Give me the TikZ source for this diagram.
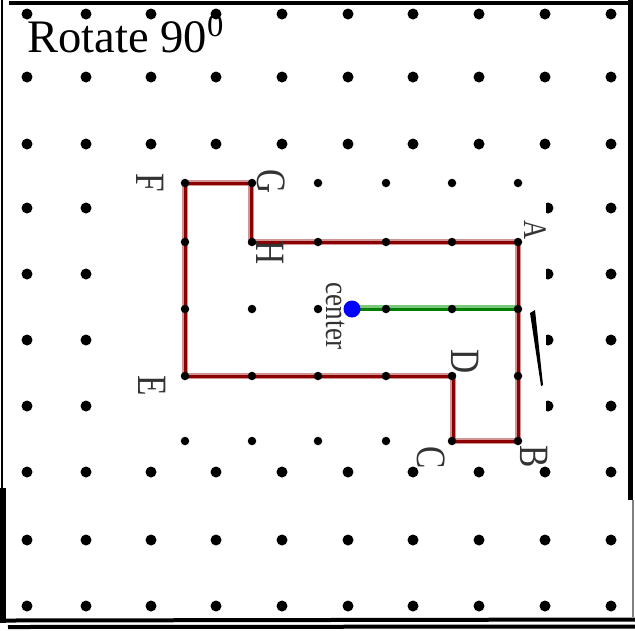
\documentclass[tikz,border=0pt]{standalone}
\usepackage{fontspec}
\setmainfont{Liberation Serif}
\definecolor{polyred}{HTML}{8B0000}
\definecolor{polyhalo}{HTML}{D09494}
\definecolor{seggreen}{HTML}{008000}
\definecolor{seghalo}{HTML}{7CC87C}
\begin{document}
\begin{tikzpicture}[x=0.02cm,y=-0.02cm,
  lbl/.style={inner sep=0pt,rotate=-90,text=black!80,font=\fontsize{19}{19}\selectfont},
  frame/.style={line width=#1*0.02cm,black},
  halo/.style={line width=6*0.02cm,line join=miter},
  edge/.style={line width=3*0.02cm,line join=miter}]
\useasboundingbox (0,0) rectangle (635,630);
% outer dot grid
\foreach \y in {14,77,144,472,540,606}
  \foreach \x in {27,86,151,216,282,348,413,479,545,611}
    \fill (\x,\y) circle (0.11cm);
\foreach \y in {208,274,340,406}
  \foreach \x in {27,86,548,611}
    \fill (\x,\y) circle (0.11cm);
% inner panel
\fill[white] (120,156) rectangle (546,462);
% polygon vertices
\coordinate (F) at (185,183);
\coordinate (G) at (251,183);
\coordinate (H) at (251,242);
\coordinate (A) at (518,242);
\coordinate (B) at (518,441);
\coordinate (C) at (453,441);
\coordinate (D) at (453,376);
\coordinate (E) at (185,376);
\coordinate (ctr) at (352,309);
\coordinate (mid) at (518,309);
% red polygon
\draw[halo,polyhalo,shift={(1.5,1.5)}] (F) -- (G) -- (H) -- (A) -- (B) -- (C) -- (D) -- (E) -- cycle;
\draw[edge,polyred] (F) -- (G) -- (H) -- (A) -- (B) -- (C) -- (D) -- (E) -- cycle;
% green segment
\draw[line width=5*0.02cm,seghalo] ([yshift=0.03cm]ctr) -- ([yshift=0.03cm]mid);
\draw[edge,seggreen] ([yshift=-0.01cm]ctr) -- ([yshift=-0.01cm]mid);
% slanted mark
\fill (530,313) -- (535,310) -- (543,385) -- (541,386) -- cycle;
% labels
\node[lbl] (lF) at (150,183) {\scalebox{1}[1.25]{F}};
\node[lbl] (lG) at (271,182) {\scalebox{1}[1.25]{G}};
\node[lbl] (lH) at (270,253) {\scalebox{1}[1.25]{H}};
\node[lbl,font=\fontsize{15}{15}\selectfont] (lA) at (535,230) {\scalebox{1}[1.25]{A}};
\node[lbl] (lB) at (534,457) {\scalebox{1}[1.25]{B}};
\node[lbl] (lC) at (431,458) {\scalebox{1}[1.25]{C}};
\node[lbl] (lD) at (465,362) {\scalebox{1}[1.25]{D}};
\node[lbl] (lE) at (152,386) {\scalebox{1}[1.25]{E}};
\node[lbl,font=\fontsize{15.5}{15.5}\selectfont] (lc) at (336,316) {\scalebox{1}[1.2]{center}};
% inner dots
\foreach \y in {183,242,309,376,441}
  \foreach \x in {185,252,318,386,452,518}
    \fill (\x,\y) circle (0.085cm);
% center dot
\fill[blue] (ctr) circle (0.17cm);
% title
\node[anchor=base west,inner sep=0pt,font=\fontsize{26.5}{26.5}\selectfont] (title) at (27,52) {Rotate 90\textsuperscript{0}};
% frame
\draw[frame=4] (9,2.5) -- (633,2.5);
\draw[frame=5] (630.5,0) -- (630.5,500);
\draw[line width=1.5*0.02cm,gray] (633,500) -- (633,617);
\draw[frame=2] (2,0) -- (2,490);
\draw[frame=6] (3,488) -- (3,623);
\draw[frame=4] (5,620.5) -- (635,619.5);
\draw[frame=4] (8,627) -- (635,626.5);
\end{tikzpicture}
\end{document}
